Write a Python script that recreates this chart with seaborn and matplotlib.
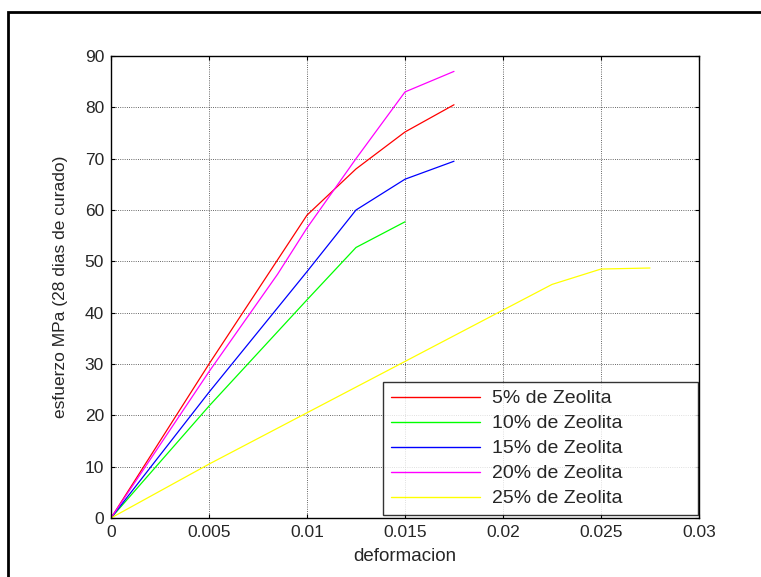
import numpy as np
import pandas as pd
import matplotlib
matplotlib.use("Agg")
import matplotlib.pyplot as plt
import seaborn as sns
from matplotlib.patches import Rectangle

labels = ["5% de Zeolita", "10% de Zeolita", "15% de Zeolita", "20% de Zeolita", "25% de Zeolita"]
colors = ["#ff0000", "#00ff00", "#0000ff", "#ff00ff", "#ffff00"]

x5 = [0, 0.005, 0.01, 0.0125, 0.015, 0.0175]
y5 = [0, 30.0, 59.0, 68.0, 75.2, 80.5]
x10 = [0, 0.005, 0.01, 0.0125, 0.015]
y10 = [0, 21.8, 42.5, 52.7, 57.7]
x15 = [0, 0.005, 0.01, 0.0125, 0.015, 0.0175]
y15 = [0, 24.5, 48.0, 60.0, 66.0, 69.5]
x20 = [0, 0.005, 0.0085, 0.01, 0.0125, 0.015, 0.0175]
y20 = [0, 28.5, 47.5, 56.5, 70.0, 83.0, 87.0]
x25 = [0, 0.005, 0.01, 0.015, 0.02, 0.0225, 0.025, 0.0275]
y25 = [0, 10.5, 20.5, 30.5, 40.5, 45.5, 48.5, 48.7]

xs = [x5, x10, x15, x20, x25]
ys = [y5, y10, y15, y20, y25]
frames = []
for lab, xv, yv in zip(labels, xs, ys):
    frames.append(pd.DataFrame({"deformacion": xv, "esfuerzo": yv, "serie": lab}))
df = pd.concat(frames, ignore_index=True)

sns.set_style("white")
plt.rcParams["font.family"] = ["Liberation Sans", "DejaVu Sans"]

fig = plt.figure(figsize=(7.61, 5.77), dpi=100)
ax = fig.add_axes([111/761, 1-518/577, (699-111)/761, (518-56)/577])

sns.lineplot(data=df, x="deformacion", y="esfuerzo", hue="serie", hue_order=labels,
             palette=dict(zip(labels, colors)), estimator=None, sort=False,
             linewidth=0.9, ax=ax)

ax.set_xlim(0, 0.03)
ax.set_ylim(0, 90)
ax.set_xticks([0, 0.005, 0.01, 0.015, 0.02, 0.025, 0.03])
ax.set_xticklabels(["0", "0.005", "0.01", "0.015", "0.02", "0.025", "0.03"])
ax.set_yticks(range(0, 91, 10))
ax.grid(True, color="#333333", linestyle=":", linewidth=0.6)
ax.tick_params(direction="in", length=3, labelsize=12.5, color="black", top=True, right=True,
               bottom=True, left=True, pad=5)
for s in ax.spines.values():
    s.set_color("black")
    s.set_linewidth(1.0)
ax.set_xlabel("deformacion", fontsize=13.5, labelpad=6)
ax.set_ylabel("esfuerzo MPa (28 dias de curado)", fontsize=12.5, labelpad=12)

leg = ax.legend(loc="lower left", bbox_to_anchor=(0.4626, 0.006, 0.5354, 0.286),
                mode="expand", fontsize=14, frameon=True, fancybox=False,
                edgecolor="black", handlelength=4.6, borderaxespad=0.0,
                labelspacing=0.38, borderpad=0.4, handletextpad=0.6)
leg.get_frame().set_linewidth(1.0)
for h in leg.get_lines():
    h.set_linewidth(1.0)

fig.patches.append(Rectangle((8/761, -0.05), 1.1, 1 - 12/577 + 0.05, transform=fig.transFigure,
                             fill=False, edgecolor="black", linewidth=2))

fig.savefig("out.png", dpi=100)
